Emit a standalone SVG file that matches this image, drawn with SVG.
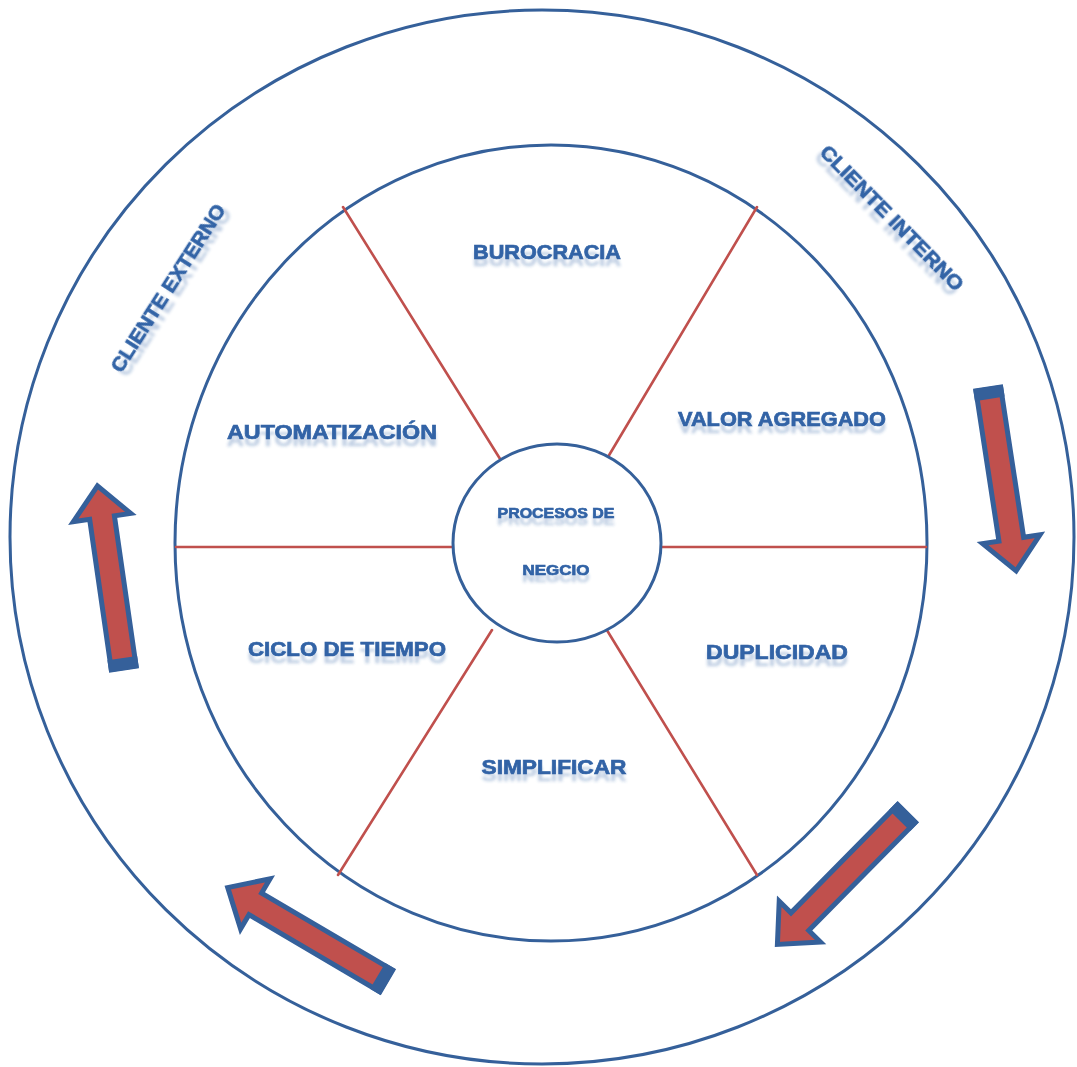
<svg xmlns="http://www.w3.org/2000/svg" width="1077" height="1067" viewBox="0 0 1077 1067">
  <style>
    .ring { fill: none; stroke: #35609a; stroke-width: 3; }
    .spoke { stroke: #c0504d; stroke-width: 2.6; stroke-linecap: round; }
    .lbl { font-family: "Liberation Sans", Arial, sans-serif; font-weight: bold; fill: #3163a6; stroke: #3163a6; stroke-width: 0.7; text-anchor: middle; filter: url(#refl); }
    .arrow-body { fill: #c0504d; stroke: #35609a; stroke-width: 5; stroke-linejoin: miter; }
    .arrow-tail { fill: #35609a; }
  </style>
  <defs>
    <filter id="refl" x="-10%" y="-60%" width="120%" height="260%">
      <feGaussianBlur in="SourceGraphic" stdDeviation="1.6" result="b"/>
      <feOffset in="b" dy="7" result="o"/>
      <feComponentTransfer in="o" result="f">
        <feFuncA type="linear" slope="0.3"/>
      </feComponentTransfer>
      <feMerge>
        <feMergeNode in="f"/>
        <feMergeNode in="SourceGraphic"/>
      </feMerge>
    </filter>
    <g id="block-arrow">
      <path class="arrow-body" d="M2,-12.5 L154,-12.5 L154,-29 L186,0 L154,29 L154,12.5 L2,12.5 Z"/>
      <rect class="arrow-tail" x="0" y="-15" width="12" height="30"/>
    </g>
  </defs>
  <rect width="1077" height="1067" fill="#ffffff"/>

  <g id="outer-ring">
    <ellipse class="ring" cx="542" cy="537" rx="532" ry="527"/>
  </g>
  <g id="middle-ring">
    <ellipse class="ring" cx="551" cy="543" rx="376" ry="398"/>
  </g>

  <g id="connectors">
    <line class="spoke" x1="343" y1="207" x2="502" y2="462"/>
    <line class="spoke" x1="757" y1="207" x2="605" y2="462"/>
    <line class="spoke" x1="176" y1="547" x2="453" y2="547"/>
    <line class="spoke" x1="661" y1="547" x2="926" y2="547"/>
    <line class="spoke" x1="338" y1="875" x2="492" y2="630"/>
    <line class="spoke" x1="605" y1="627" x2="757" y2="875"/>
  </g>

  <g id="center-node">
    <ellipse cx="557" cy="543" rx="104" ry="99" fill="#ffffff" stroke="#35609a" stroke-width="3"/>
    <text class="lbl" x="556" y="518" font-size="15" textLength="117" lengthAdjust="spacingAndGlyphs">PROCESOS DE</text>
    <text class="lbl" x="556" y="575" font-size="15" textLength="67" lengthAdjust="spacingAndGlyphs">NEGCIO</text>
  </g>

  <g id="burocracia"><text class="lbl" x="547" y="259" font-size="21" textLength="148" lengthAdjust="spacingAndGlyphs">BUROCRACIA</text></g>
  <g id="valor-agregado"><text class="lbl" x="782" y="426" font-size="21" textLength="208" lengthAdjust="spacingAndGlyphs">VALOR AGREGADO</text></g>
  <g id="automatizacion"><text class="lbl" x="332" y="439" font-size="21" textLength="210" lengthAdjust="spacingAndGlyphs">AUTOMATIZACIÓN</text></g>
  <g id="duplicidad"><text class="lbl" x="777" y="659" font-size="21" textLength="142" lengthAdjust="spacingAndGlyphs">DUPLICIDAD</text></g>
  <g id="ciclo-de-tiempo"><text class="lbl" x="347" y="656" font-size="21" textLength="198" lengthAdjust="spacingAndGlyphs">CICLO DE TIEMPO</text></g>
  <g id="simplificar"><text class="lbl" x="554" y="774" font-size="21" textLength="145" lengthAdjust="spacingAndGlyphs">SIMPLIFICAR</text></g>

  <g id="cliente-externo" transform="translate(168,288) rotate(-57.4)">
    <text class="lbl" x="0" y="7" font-size="20" textLength="195" lengthAdjust="spacingAndGlyphs">CLIENTE EXTERNO</text>
  </g>
  <g id="cliente-interno" transform="translate(892,218) rotate(45.5)">
    <text class="lbl" x="0" y="7" font-size="20" textLength="195" lengthAdjust="spacingAndGlyphs">CLIENTE INTERNO</text>
  </g>

  <g id="arrow-right"><use href="#block-arrow" transform="translate(988,387) rotate(81.3)"/></g>
  <g id="arrow-bottom-right"><use href="#block-arrow" transform="translate(908,812) rotate(134.6)"/></g>
  <g id="arrow-bottom-left"><use href="#block-arrow" transform="translate(388,982) rotate(-149.5)"/></g>
  <g id="arrow-left"><use href="#block-arrow" transform="translate(124,670) rotate(-98.2)"/></g>
</svg>
